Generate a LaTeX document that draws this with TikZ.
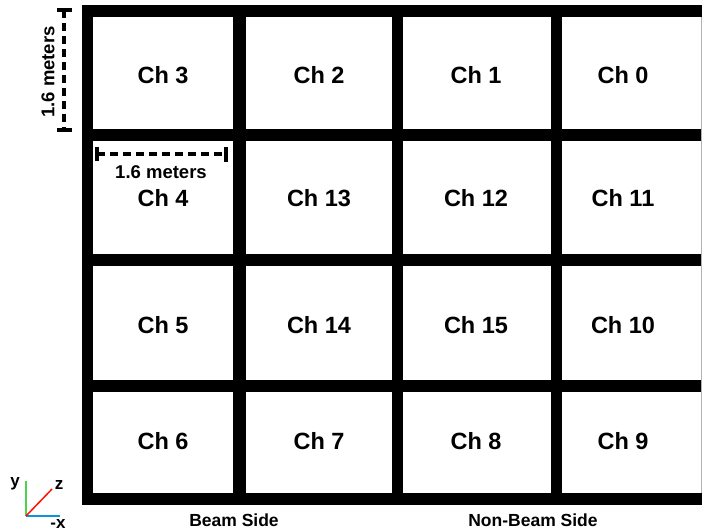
\documentclass[tikz,border=0pt]{standalone}
\usepackage{fontspec}
\setmainfont{Liberation Sans}
\usetikzlibrary{positioning}

\begin{document}
\begin{tikzpicture}[
  x=1pt, y=-1pt,
  chlabel/.style={font=\fontsize{23.5}{28}\selectfont\bfseries, inner sep=0pt},
  dimlabel/.style={font=\fontsize{18.5}{22}\selectfont\bfseries, inner sep=0pt},
  sidelabel/.style={font=\fontsize{17.5}{21}\selectfont\bfseries, inner sep=0pt},
  axislabel/.style={font=\fontsize{17}{20}\selectfont\bfseries, inner sep=0pt},
  cell/.style={fill=white},
  dimline/.style={line width=4pt, dash pattern=on 8pt off 5pt},
  dimcap/.style={line width=4pt},
  axis/.style={line width=1.5pt}
]
\useasboundingbox[fill=white] (0,0) rectangle (702,531);

% Frame
\fill[black] (82,5) rectangle (702,505);

% Row 1
\fill[cell] (93,17) rectangle (233,129);
\fill[cell] (246,17) rectangle (392,129);
\fill[cell] (403,17) rectangle (551,129);
\fill[cell] (562,17) rectangle (700.5,129);
% Row 2
\fill[cell] (93,141) rectangle (233,254);
\fill[cell] (246,141) rectangle (392,254);
\fill[cell] (403,141) rectangle (551,254);
\fill[cell] (562,141) rectangle (700.5,254);
% Row 3
\fill[cell] (93,266) rectangle (233,380);
\fill[cell] (246,266) rectangle (392,380);
\fill[cell] (403,266) rectangle (551,380);
\fill[cell] (562,266) rectangle (700.5,380);
% Row 4
\fill[cell] (93,392) rectangle (233,493);
\fill[cell] (246,392) rectangle (392,493);
\fill[cell] (403,392) rectangle (551,493);
\fill[cell] (562,392) rectangle (700.5,493);

\draw[gray!60, line width=0.8pt] (701.2,17) -- (701.2,493);

% Channel labels
\node[chlabel] (ch3) at (163,75) {Ch 3};
\node[chlabel] (ch2) at (319,75) {Ch 2};
\node[chlabel] (ch1) at (476,75) {Ch 1};
\node[chlabel] (ch0) at (623,75) {Ch 0};

\node[chlabel] (ch4) at (163,198) {Ch 4};
\node[chlabel] (ch13) at (319,198) {Ch 13};
\node[chlabel] (ch12) at (476,198) {Ch 12};
\node[chlabel] (ch11) at (623,198) {Ch 11};

\node[chlabel] (ch5) at (163,325) {Ch 5};
\node[chlabel] (ch14) at (319,325) {Ch 14};
\node[chlabel] (ch15) at (476,325) {Ch 15};
\node[chlabel] (ch10) at (623,325) {Ch 10};

\node[chlabel] (ch6) at (163,441) {Ch 6};
\node[chlabel] (ch7) at (319,441) {Ch 7};
\node[chlabel] (ch8) at (476,441) {Ch 8};
\node[chlabel] (ch9) at (623,441) {Ch 9};

% Vertical dimension
\coordinate (vtop) at (64,10);
\coordinate (vbot) at (64,130);
\draw[dimcap] (57,10) -- (72,10);
\draw[dimcap] (57,130) -- (72,130);
\draw[dimline] (vtop) -- (vbot);
\node[dimlabel, rotate=90] (vlen) at (48,72) {1.6 meters};

% Horizontal dimension
\coordinate (hleft) at (97,154);
\coordinate (hright) at (226,154);
\draw[dimcap] (97,147) -- (97,161);
\draw[dimcap] (226,147) -- (226,162);
\draw[dimline] (hleft) -- (hright);
\node[dimlabel] (hlen) at (161,172) {1.6 meters};

% Axes
\coordinate (origin) at (26,516);
\coordinate (yend) at (26,481);
\coordinate (xend) at (60,516);
\coordinate (zend) at (52,489);
\draw[axis, green!75!black!70!white] (origin) -- (yend);
\draw[axis, cyan!80!blue] (origin) -- (xend);
\draw[axis, red!85!orange] (origin) -- (zend);
\node[axislabel] (ylab) at (15,484) {y};
\node[axislabel] (zlab) at (59,485) {z};
\node[axislabel] (xlab) at (58,524) {-x};

% Sides
\node[sidelabel] (beam) at (234,520) {Beam Side};
\node[sidelabel] (nonbeam) at (533,520) {Non-Beam Side};
\end{tikzpicture}
\end{document}
